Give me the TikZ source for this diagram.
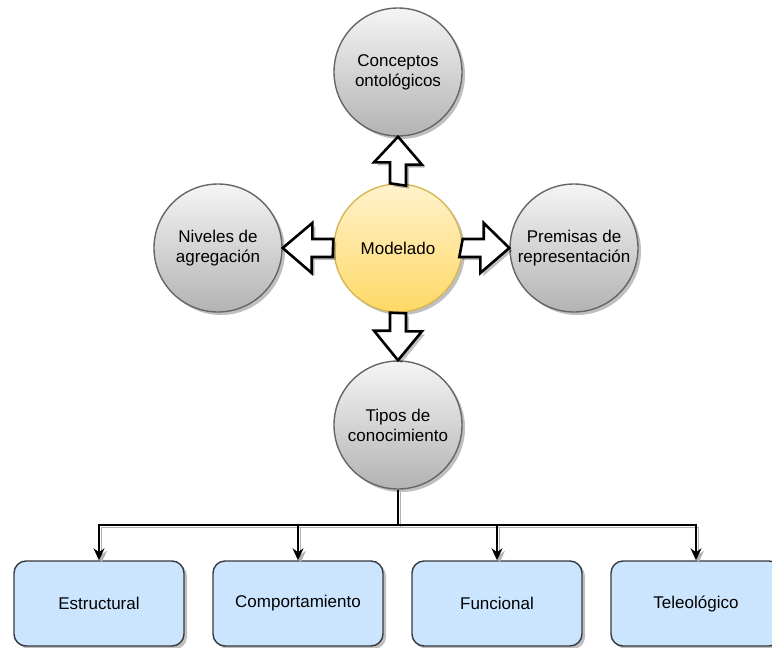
\documentclass[tikz,border=0pt]{standalone}
\usepackage{fontspec}
\setmainfont{Liberation Sans}
\usetikzlibrary{shadows,arrows.meta}
\definecolor{circtop}{HTML}{F5F5F5}
\definecolor{circbot}{HTML}{B3B3B3}
\definecolor{circline}{HTML}{666666}
\definecolor{hubtop}{HTML}{FFF2CC}
\definecolor{hubbot}{HTML}{FFD966}
\definecolor{hubline}{HTML}{D6B656}
\definecolor{boxfill}{HTML}{CCE5FF}
\definecolor{boxline}{HTML}{36393D}
\tikzset{
  softshadow/.style={drop shadow={shadow xshift=3pt, shadow yshift=-3pt, fill=black, opacity=0.25}},
  topic/.style={circle, minimum size=128pt, inner sep=0pt, align=center,
    top color=circtop, bottom color=circbot, draw=circline, line width=1.4pt,
    softshadow, font=\fontsize{17}{20}\selectfont},
  hub/.style={topic, top color=hubtop, bottom color=hubbot, draw=hubline},
  kind/.style={rectangle, rounded corners=12pt, minimum width=170pt, minimum height=85pt,
    fill=boxfill, draw=boxline, line width=1.4pt, softshadow,
    font=\fontsize{17}{20}\selectfont},
  blockarrow/.style={draw=black, fill=white, line width=2.6pt, line join=miter, softshadow},
  branchtip/.style={-{Stealth[length=12pt,width=11pt]}},
  branch/.style={draw=black, line width=1.3pt, branchtip},
  branchshadow/.style={draw=black!30, line width=1.3pt, branchtip}
}
\begin{document}
\begin{tikzpicture}[x=1pt,y=-1pt]
\useasboundingbox (0,0) rectangle (772,648);

% central hub and its four topics
\node[hub]   (model) at (398,248) {Modelado};
\node[topic] (onto)  at (398,72)  {Conceptos\\ontológicos};
\node[topic] (aggr)  at (218,248) {Niveles de\\agregación};
\node[topic] (prem)  at (574,248) {Premisas de\\representación};
\node[topic] (kinds) at (398,425) {Tipos de\\conocimiento};

% hollow block arrows out of the hub
\draw[blockarrow] (model.north) ++(-8,0) -- ++(0,-21) -- ++(-16,0) -- (onto.south)
  -- ++(24,28) -- ++(-16,0) -- ++(0,21) -- cycle;
\draw[blockarrow] (model.south) ++(-8,0) -- ++(0,18) -- ++(-16,0) -- (kinds.north)
  -- ++(24,-29) -- ++(-16,0) -- ++(0,-18) -- cycle;
\draw[blockarrow] (model.west) ++(0,-9) -- ++(-21,0) -- ++(0,-16) -- (aggr.east)
  -- ++(29,25) -- ++(0,-16) -- ++(21,0) -- cycle;
\draw[blockarrow] (model.east) ++(0,-9) -- ++(21,0) -- ++(0,-16) -- (prem.west)
  -- ++(-29,25) -- ++(0,-16) -- ++(-21,0) -- cycle;

% the four kinds of knowledge
\node[kind] (estr) at (99,603.5)  {Estructural};
\node[kind] (comp) at (298,603.5) {Comportamiento};
\node[kind] (func) at (497,603.5) {Funcional};
\node[kind] (tele) at (696,603.5) {Teleológico};

% tree connectors: a light offset copy first, then the black lines
\coordinate (fork) at (398,525);
\begin{scope}[transform canvas={shift={(2.5pt,-2.5pt)}}]
  \foreach \t in {estr,comp,func,tele}
    \draw[branchshadow] (kinds.south) -- (fork) -| (\t.north);
\end{scope}
\foreach \t in {estr,comp,func,tele}
  \draw[branch] (kinds.south) -- (fork) -| (\t.north);
\end{tikzpicture}
\end{document}
